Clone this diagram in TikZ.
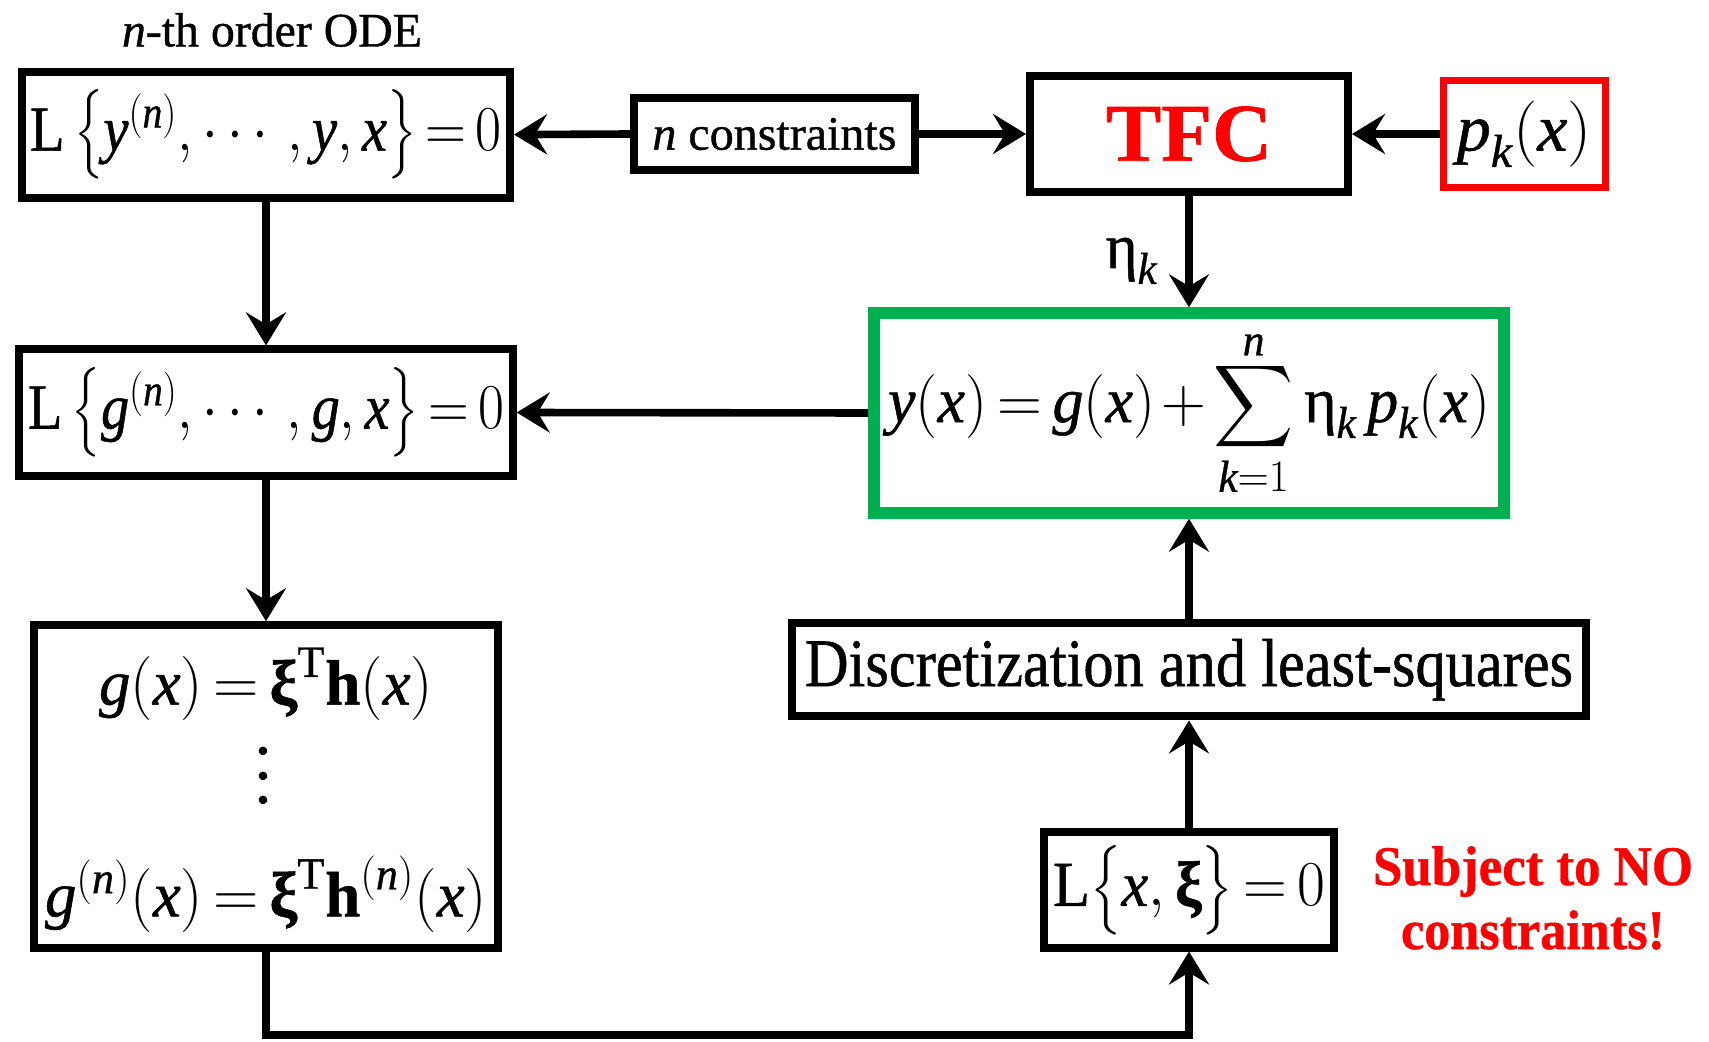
\documentclass[tikz,border=0pt]{standalone}
\usepackage{fix-cm}
\usepackage{amsmath}
\usepackage{fontspec}
\setmainfont{Liberation Serif}[FakeBold=0.8]
\newfontfamily\tnr{Liberation Serif}[FakeBold=0.8]
\usetikzlibrary{arrows.meta}

\definecolor{tfcred}{RGB}{255,0,0}
\definecolor{solgreen}{RGB}{0,176,80}

% italic variable, set in the text face
\newcommand\vv[1]{\textit{#1}}
\newcommand\fsz[1]{\tnr\fontsize{#1}{#1}\selectfont}
% set a text to a given width, keeping its height
\newcommand\fitw[2]{\resizebox{#1}{\height}{#2}}

\thickmuskip=3mu
\medmuskip=2mu

\begin{document}
\begin{tikzpicture}[x=0.5pt,y=-0.5pt,
  blk/.style={draw, line width=4pt, inner sep=0pt, anchor=center, font=\fsz{32}},
  arr/.style={line width=3.8pt, line join=miter, -{Stealth[length=16.5pt,width=20pt,inset=6pt]}},
  eqn/.style={inner sep=0pt, font=\fsz{32}}
]
\useasboundingbox (0,0) rectangle (1709,1042);

% left column
\node[inner sep=0pt, font=\fsz{24}] (ode) at (272,30) {\fitw{150pt}{\vv{n}-th order ODE}};
\node[blk, minimum width=244pt, minimum height=63pt] (b1) at (266,134.6)
  {\fitw{236pt}{$\mathrm{L}\left\{\vv{y}^{(\vv{n})},\cdots,\vv{y},\vv{x}\right\}=0$}};
\node[blk, minimum width=246.7pt, minimum height=63.1pt] (b2) at (266,412.5)
  {\fitw{238pt}{$\mathrm{L}\left\{\vv{g}^{(\vv{n})},\cdots,\vv{g},\vv{x}\right\}=0$}};
\node[blk, minimum width=232pt, minimum height=161.2pt] (b3) at (266,786.4) {};
\node[eqn] (b3a) at (266,684)
  {\fitw{167pt}{$\vv{g}(\vv{x})=\textbf{ξ}^{\mathrm{T}}\textbf{h}(\vv{x})$}};
\node[eqn] (b3d) at (266,776)
  {\rotatebox{90}{\fontsize{40}{40}\selectfont$\mathord{\cdotp}\mkern0.5mu\mathord{\cdotp}\mkern0.5mu\mathord{\cdotp}$}};
\node[eqn] (b3b) at (266,894)
  {\fitw{221pt}{$\vv{g}^{(\vv{n})}(\vv{x})=\textbf{ξ}^{\mathrm{T}}\textbf{h}^{(\vv{n})}(\vv{x})$}};

% top row
\node[blk, minimum width=140.4pt, minimum height=35.8pt, font=\fsz{24}] (nc) at (774.4,134)
  {\fitw{122pt}{\vv{n} constraints}};
\node[blk, minimum width=159pt, minimum height=58.2pt, font=\fsz{41}\bfseries, text=tfcred] (tfc) at (1189,134)
  {\fitw{83pt}{TFC}};
\node[blk, draw=tfcred, line width=3.6pt, minimum width=80.9pt, minimum height=53.6pt, font=\fsz{33}] (pk) at (1524.2,134)
  {\fitw{67.5pt}{$\vv{p}_{\vv{k}}(\vv{x})$}};

% right column
\node[blk, draw=solgreen, line width=6pt, minimum width=315pt, minimum height=99.7pt] (gr) at (1189,413)
  {\fitw{301pt}{$\vv{y}(\vv{x})=\vv{g}(\vv{x})+\mathop{\raisebox{-1.5pt}{\scalebox{1.15}{$\displaystyle\sum$}}}\limits_{\vv{k}=1}^{\raisebox{-4pt}[\height][0pt]{$\scriptstyle\vv{n}$}}\text{η}_{\vv{k}}\,\vv{p}_{\vv{k}}(\vv{x})$}};
\node[blk, minimum width=396.6pt, minimum height=46.7pt, font=\fsz{34}] (disc) at (1189,669.7)
  {\fitw{384pt}{Discretization and least-squares}};
\node[blk, minimum width=144.8pt, minimum height=57.6pt] (lx) at (1189,889.9)
  {\fitw{136pt}{$\mathrm{L}\bigl\{\vv{x},\textbf{ξ}\bigr\}=0$}};
\node[inner sep=0pt, align=center, text=tfcred, font=\tnr\fontsize{28}{32}\selectfont\bfseries] (note) at (1533,898)
  {\fitw{160pt}{Subject to NO}\\ \fitw{132pt}{constraints!}};

\coordinate (low) at (0,1035);

% connectors
\draw[arr] (nc.west) -- (b1.east);
\draw[arr] (nc.east) -- (tfc.west);
\draw[arr] (pk.west) -- (tfc.east);
\draw[arr] (tfc.south) -- (gr.north);
\node[inner sep=0pt, anchor=base east, font=\fsz{32}] (eta) at (1158,268) {\fitw{26pt}{$\text{η}_{\vv{k}}$}};
\draw[arr] (b1.south) -- (b2.north);
\draw[arr] (gr.west) -- (b2.east);
\draw[arr] (b2.south) -- (b3.north);
\draw[arr] (b3.south) -- (b3.south |- low) -| (lx.south);
\draw[arr] (lx.north) -- (disc.south);
\draw[arr] (disc.north) -- (gr.south);
\end{tikzpicture}
\end{document}
